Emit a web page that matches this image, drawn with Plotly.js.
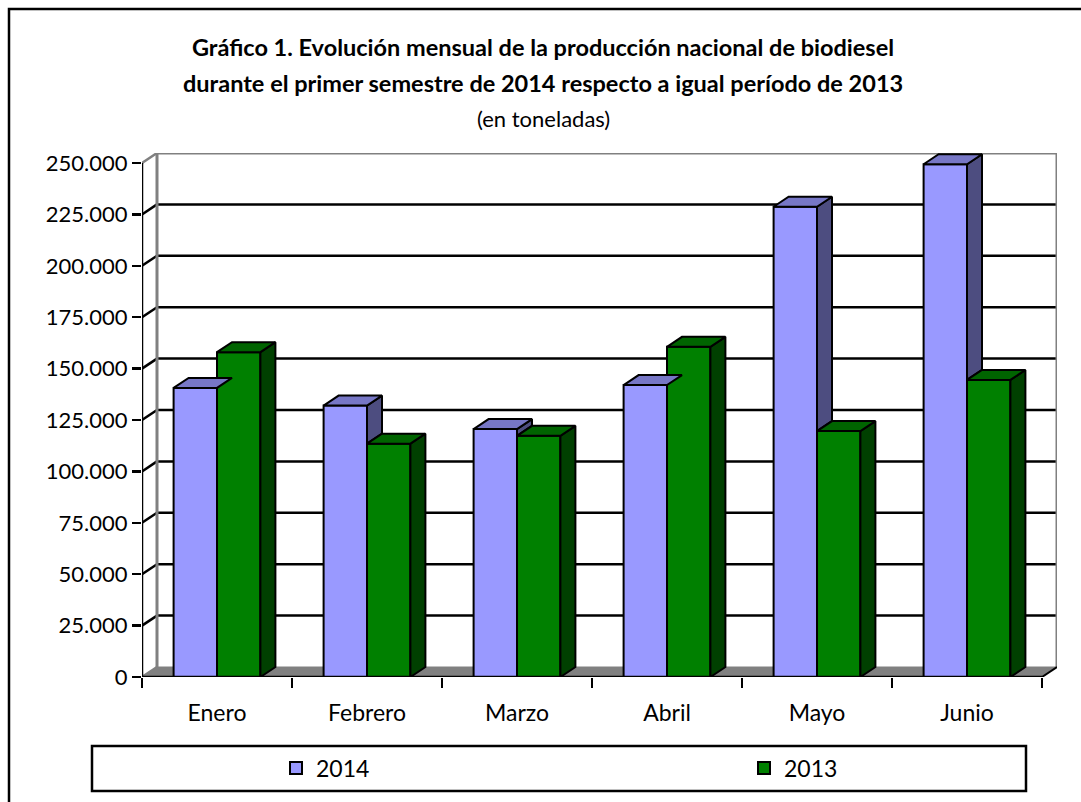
<!DOCTYPE html>
<html>
<head>
<meta charset="utf-8">
<script src="https://cdn.plot.ly/plotly-3.0.1.min.js"></script>
<style>html,body{margin:0;padding:0;background:#fff;}#chart{width:1081px;height:802px;}</style>
</head>
<body>
<div id="chart"></div>
<script>
// ---- data ----
const categories = ['Enero', 'Febrero', 'Marzo', 'Abril', 'Mayo', 'Junio'];
const series2014 = [140600, 132000, 120600, 142000, 228700, 249400];
const series2013 = [158000, 113500, 117300, 160600, 119600, 144500];
const yTicks = [0, 25000, 50000, 75000, 100000, 125000, 150000, 175000, 200000, 225000, 250000];
const seriesNames = ['2014', '2013'];

// ---- style ----
const FONT = 'Lato, "Open Sans", sans-serif';
const C14 = '#9999FF', C14top = '#7777C6', C14side = '#4D4D80';
const C13 = '#008000', C13top = '#006400', C13side = '#004000';
const W = 1081, H = 802;
const M = {l: 142, r: 24, t: 153, b: 125, autoexpand: false};
const plotW = W - M.l - M.r, plotH = H - M.t - M.b;
const DEPTH_X_PX = 15, DEPTH_Y_PX = 10;
const nCat = categories.length;
const yMax = yTicks[yTicks.length - 1];
// depth in data units
const dx = DEPTH_X_PX * nCat / (plotW - DEPTH_X_PX);
const dy = DEPTH_Y_PX * yMax / (plotH - DEPTH_Y_PX);
const BARGAP = 0.4213;
const bw = (1 - BARGAP) / 2;   // width of one bar in category units
const xs = categories.map((c, i) => i);
const xL = -0.5, xR = nCat - 0.5;

// ---- 3D faces computed from the data ----
function topFaces(vals, off) {
  const X = [], Y = [];
  vals.forEach((v, i) => {
    const l = i + off, r = l + bw;
    X.push(l, l + dx, r + dx, r, l, null);
    Y.push(v, v + dy, v + dy, v, v, null);
  });
  return {X, Y};
}
function sideFaces(vals, off) {
  const X = [], Y = [];
  vals.forEach((v, i) => {
    const r = i + off + bw;
    X.push(r, r, r + dx, r + dx, r, null);
    Y.push(0, v, v + dy, dy, 0, null);
  });
  return {X, Y};
}
// visible part of the 2014 side face (above the 2013 bar next to it)
function hiddenSide(front, behind) {
  const X = [], Y = [];
  front.forEach((v, i) => {
    const b = behind[i];
    if (v > b) {
      const r = i;
      X.push(r, r, r + dx, r + dx, r, null);
      Y.push(b, v, v + dy, b + dy, b, null);
    }
  });
  return {X, Y};
}
function face(obj, color) {
  return {type: 'scatter', mode: 'lines', x: obj.X, y: obj.Y, fill: 'toself',
    fillcolor: color, line: {color: '#000', width: 2}, hoverinfo: 'skip',
    showlegend: false};
}

const traces = [
  {type: 'bar', name: seriesNames[0], x: xs, y: series2014, legend: 'legend',
   marker: {color: C14, line: {color: '#000', width: 2}}},
  {type: 'bar', name: seriesNames[1], x: xs, y: series2013, legend: 'legend2',
   marker: {color: C13, line: {color: '#000', width: 2}}},
  face(hiddenSide(series2014, series2013), C14side),
  face(topFaces(series2014, -bw), C14top),
  face(sideFaces(series2013, 0), C13side),
  face(topFaces(series2013, 0), C13top)
];

// ---- walls, floor, gridlines ----
const shapes = [];
const GRAY = '#808080';
// floor
shapes.push({type: 'path', layer: 'below', xref: 'x', yref: 'y',
  path: `M${xL},0 L${xL + dx},${dy} L${xR + dx},${dy} L${xR},0 Z`,
  fillcolor: GRAY, line: {color: GRAY, width: 1}});
// back-wall gridlines and side-wall diagonals
yTicks.forEach((t, k) => {
  const edge = (k === 0 || k === yTicks.length - 1);
  if (k > 0) {
    shapes.push({type: 'line', layer: 'below', xref: 'x', yref: 'y',
      x0: xL + dx, x1: xR + dx, y0: t + dy, y1: t + dy,
      line: {color: edge ? GRAY : '#000', width: edge ? 3 : 2.5}});
  }
  shapes.push({type: 'line', layer: 'below', xref: 'x', yref: 'y',
    x0: xL, x1: xL + dx, y0: t, y1: t + dy,
    line: {color: edge ? GRAY : '#000', width: 2.5}});
});
// back wall vertical edges
[xL + dx, xR + dx].forEach(x => shapes.push({type: 'line', layer: 'below', xref: 'x', yref: 'y',
  x0: x, x1: x, y0: dy, y1: yMax + dy, line: {color: GRAY, width: 3}}));
// front axes lines
shapes.push({type: 'line', xref: 'x', yref: 'y', x0: xL, x1: xL, y0: 0, y1: yMax,
  line: {color: '#000', width: 2.5}});
shapes.push({type: 'line', xref: 'x', yref: 'y', x0: xL, x1: xR, y0: 0, y1: 0,
  line: {color: '#000', width: 2.5}});
shapes.push({type: 'line', xref: 'x', yref: 'y', x0: xR, x1: xR + dx, y0: 0, y1: dy,
  line: {color: '#000', width: 2}});
// legend box and outer border (paper coords from pixels)
const px = p => (p - M.l) / plotW;
const py = p => (H - M.b - p) / plotH;
shapes.push({type: 'rect', xref: 'paper', yref: 'paper',
  x0: px(92), x1: px(1026), y0: py(791), y1: py(746),
  line: {color: '#000', width: 2.5}, fillcolor: 'rgba(0,0,0,0)'});
shapes.push({type: 'rect', xref: 'paper', yref: 'paper',
  x0: px(9), x1: px(1090), y0: py(812), y1: py(9),
  line: {color: '#000', width: 2.5}, fillcolor: 'rgba(0,0,0,0)'});

const legendBase = {orientation: 'h', xanchor: 'left', y: py(768), yanchor: 'middle',
  bgcolor: 'rgba(0,0,0,0)', font: {family: FONT, size: 23, color: '#000'}};

const layout = {
  width: W, height: H,
  margin: M,
  paper_bgcolor: '#fff', plot_bgcolor: '#fff',
  separators: ',.',
  font: {family: FONT, size: 21, color: '#000'},
  title: {text: '<b>Gráfico 1. Evolución mensual de la producción nacional de biodiesel</b>',
    x: 543 / W, xanchor: 'center', y: 1 - 48 / H, yanchor: 'middle',
    font: {family: FONT, size: 23.5, color: '#000'}},
  annotations: [
    {text: '<b>durante el primer semestre de 2014 respecto a igual período de 2013</b>',
     xref: 'paper', yref: 'paper', x: px(543), y: py(83), xanchor: 'center', yanchor: 'middle',
     showarrow: false, font: {family: FONT, size: 23.5, color: '#000'}},
    {text: '(en toneladas)',
     xref: 'paper', yref: 'paper', x: px(543), y: py(118), xanchor: 'center', yanchor: 'middle',
     showarrow: false, font: {family: FONT, size: 22, color: '#000'}}
  ],
  barmode: 'group', bargap: BARGAP, bargroupgap: 0,
  xaxis: {range: [xL, xR + dx], showgrid: false, zeroline: false, showline: false,
    tickmode: 'array', tickvals: xs, ticktext: categories, ticks: '',
    ticklabelstandoff: 20, tickfont: {size: 23},
    minor: {tick0: 0.5, dtick: 1, ticks: 'outside', ticklen: 10, tickwidth: 2.5, tickcolor: '#000', showgrid: false},
    fixedrange: true},
  yaxis: {range: [0, yMax + dy], showgrid: false, zeroline: false, showline: false,
    tickmode: 'array', tickvals: yTicks, tickformat: ',d',
    ticks: 'outside', ticklen: 9, tickwidth: 2.5, tickcolor: '#000',
    tickfont: {size: 22}, fixedrange: true},
  showlegend: true,
  legend: Object.assign({}, legendBase, {x: px(276)}),
  legend2: Object.assign({}, legendBase, {x: px(744)}),
  shapes: shapes
};

Plotly.newPlot('chart', traces, layout, {displayModeBar: false, staticPlot: true});
</script>
</body>
</html>
